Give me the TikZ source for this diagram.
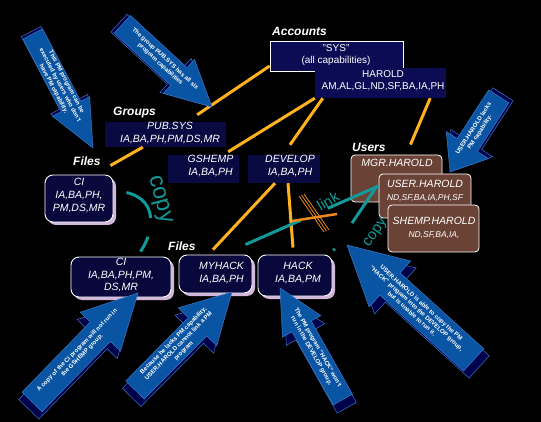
\documentclass[tikz,border=0pt]{standalone}
\usepackage{fontspec}
\setmainfont{Liberation Sans}
\usetikzlibrary{shadows}
\definecolor{AcctNavy}{HTML}{0C0C55}
\definecolor{GroupNavy}{HTML}{0A0A42}
\definecolor{FileNavy}{HTML}{08083C}
\definecolor{Lavender}{HTML}{D2B6DC}
\definecolor{UserBrown}{HTML}{6A4236}
\definecolor{LinkOrange}{HTML}{FFB21E}
\definecolor{BreakOrange}{HTML}{F08A1E}
\definecolor{CopyTeal}{HTML}{12999A}
\definecolor{ArrowFace}{HTML}{0A55A3}
\definecolor{ArrowSide}{HTML}{00004A}
\definecolor{ArrowEdge}{HTML}{3A78C8}

\tikzset{
  sz/.style 2 args={minimum width=#1pt,minimum height=#2pt,inner sep=0pt},
  acctbox/.style={fill=AcctNavy},
  groupbox/.style={fill=GroupNavy},
  filebox/.style={fill=FileNavy,draw=white,line width=0.9pt,rounded corners=8pt,
    drop shadow={shadow xshift=3pt,shadow yshift=-3pt,fill=Lavender,opacity=1}},
  userbox/.style={fill=UserBrown,draw=white,line width=0.8pt,rounded corners=4pt},
  boxtext/.style={text=white,align=center,inner sep=0pt,font=\fontsize{10.5}{13}\selectfont\itshape},
  accttext/.style={boxtext,font=\fontsize{10}{12.5}\selectfont},
  head/.style={text=white,anchor=base west,inner sep=0pt,font=\fontsize{12}{14}\selectfont\bfseries\itshape},
  link/.style={LinkOrange,line width=3pt},
  copyline/.style={CopyTeal,line width=3pt},
  copytext/.style={text=CopyTeal,inner sep=0pt},
  arrowface/.style={fill=ArrowFace,draw=ArrowEdge,line width=0.5pt},
  arrowside/.style={fill=ArrowSide,draw=ArrowEdge,line width=0.5pt},
  arrowtext/.style={text=white,align=center,inner sep=0pt,font=\fontsize{6}{7.2}\selectfont\bfseries}
}

\begin{document}
\begin{tikzpicture}[x=1pt,y=-1pt]
  \fill[black] (0,0) rectangle (541,422);
  \useasboundingbox (0,0) rectangle (541,422);

  % accounts
  \node[head] (acct-lbl) at (272,36) {Accounts};
  \node[acctbox,draw=white,line width=0.8pt,sz={133}{30}] (sys) at (336.5,56) {};
  \node[accttext] (sys-txt) at (336,55) {"SYS"\\(all capabilities)};
  \node[acctbox,sz={131}{30}] (harold) at (380.5,83) {};
  \node[accttext,font=\fontsize{10}{12}\selectfont] (harold-txt) at (383,81) {HAROLD\\AM,AL,GL,ND,SF,BA,IA,PH};

  % groups
  \node[head] (grp-lbl) at (113,116) {Groups};
  \node[groupbox,sz={121}{25}] (pub) at (165.5,134.5) {};
  \node[boxtext] (pub-txt) at (170,133) {PUB.SYS\\IA,BA,PH,PM,DS,MR};
  \node[groupbox,sz={71}{28}] (gshemp) at (203.5,169) {};
  \node[boxtext] (gshemp-txt) at (210.5,166.5) {GSHEMP\\IA,BA,PH};
  \node[groupbox,sz={72}{28}] (develop) at (284,169) {};
  \node[boxtext] (develop-txt) at (290,166.5) {DEVELOP\\IA,BA,PH};

  % files
  \node[head] (file-lbl-a) at (73,166) {Files};
  \node[filebox,sz={68}{47}] (ci-a) at (79,198.5) {};
  \node[boxtext] (ci-a-txt) at (79,196) {CI\\IA,BA,PH,\\PM,DS,MR};
  \node[head] (file-lbl-b) at (168,251) {Files};
  \node[filebox,sz={100}{40}] (ci-b) at (121,277) {};
  \node[boxtext,font=\fontsize{10.5}{12.5}\selectfont\itshape] (ci-b-txt) at (121,275.5) {CI\\IA,BA,PH,PM,\\DS,MR};
  \node[filebox,sz={73}{38}] (myhack) at (215.5,274) {};
  \node[boxtext] (myhack-txt) at (221.5,273) {MYHACK\\IA,BA,PH};
  \node[filebox,sz={74}{41}] (hack) at (295,275.5) {};
  \node[boxtext] (hack-txt) at (298,273) {HACK\\IA,BA,PM};

  % users
  \node[head] (user-lbl) at (352,152) {Users};
  \node[userbox,sz={91}{47}] (mgr) at (396.5,178.5) {};
  \node[boxtext] (mgr-txt) at (397,163) {MGR.HAROLD};
  \node[userbox,sz={92}{44}] (user) at (425,196) {};
  \node[boxtext] (user-txt) at (425,190.5) {USER.HAROLD\\{\fontsize{8.5}{10}\selectfont ND,SF,BA,IA,PH,SF}};
  \node[userbox,sz={91}{47}] (shemp) at (433.5,228.5) {};
  \node[boxtext] (shemp-txt) at (434,228) {SHEMP.HAROLD\\{\fontsize{8.5}{10}\selectfont ND,SF,BA,IA,}};

  % capability links
  \draw[link] ([yshift=-10pt]sys.west) -- ([xshift=-29pt,yshift=7pt]pub.north east);
  \draw[link] (harold.south west) -- ([xshift=-11pt,yshift=3pt]gshemp.north east);
  \draw[link] ([xshift=8pt]harold.south west) -- ([xshift=6pt,yshift=10pt]develop.north);
  \draw[link] ([xshift=-16pt]harold.south east) -- ([xshift=14pt,yshift=10pt]mgr.north);
  \draw[link] ([xshift=38pt]pub.south west) -- ([xshift=-3pt,yshift=9pt]ci-a.north east);
  \draw[link] ([xshift=-9pt]develop.south) -- ([xshift=-2.5pt,yshift=5pt]myhack.north);
  \draw[link] ([xshift=4pt]develop.south) -- ([xshift=-2pt,yshift=7pt]hack.north);

  % copy / link paths
  \draw[copyline,dash pattern=on 60pt off 30pt on 80pt] ([xshift=-7pt,yshift=10pt]myhack.north east) -- ([yshift=10pt]user.west);
  \draw[copyline,dash pattern=on 44pt off 31pt on 3pt off 10pt] ([xshift=-2pt,yshift=-13pt]user.north west) -- ([xshift=1pt,yshift=4pt]hack.north east);
  \draw[copyline,dash pattern=on 38pt off 19pt on 30pt] ([xshift=13pt,yshift=6pt]ci-a.east)
    .. controls +(34,8) and +(12,-17) .. ([xshift=-31pt,yshift=5pt]ci-b.north east);
  \node[copytext,font=\fontsize{23}{23}\selectfont,rotate=-75] (copy-a) at (159,200) {copy};
  \node[copytext,font=\fontsize{15}{15}\selectfont,rotate=30] (link-txt) at (328,201) {link};
  \node[copytext,font=\fontsize{15}{15}\selectfont,rotate=56] (copy-b) at (376,233) {copy};

  % broken link
  \foreach \d in {0,2.5,5} {
    \draw[BreakOrange,line width=0.8pt] (299+\d,196-\d*0.4) -- (324+\d,232-\d*0.4);
  }
  \draw[BreakOrange,line width=2.5pt] (292,221) -- (337,214);

  % call-out arrows
  \foreach \tx/\ty/\ang/\len/\sw/\hw/\hl/\flip/\txt [count=\i] in {%
    {93/148/-62.2/129/11/21/47/0/{This PM program can be\\executed by users who don't\\have PM capability.}},
    {212/107/-42.7/122/12/23/45/0/{The group PUB.SYS has all six\\program capabilities}},
    {450/172/-122.8/90/12/25/32/180/{USER.HAROLD lacks\\PM capability.}},
    {138/293/45.8/152/14/28/54/0/{A copy of the CI program will not run in\\the GSHEMP group.}},
    {232/292/45.3/138/13/27/49/0/{Because he lacks PM capability,\\USER.HAROLD cannot link a PM\\program}},
    {280/288/119.4/128/11/22/44/180/{The PM program "HACK" won't\\run in the DEVELOP group.}},
    {347/245/137.8/171/15/31/58/180/{USER.HAROLD is able to copy the PM\\"HACK" program into the DEVELOP group,\\but is unable to run it.}}}{
    \filldraw[arrowside,shift={(\tx+1,\ty+3)},rotate=\ang,xshift=-6pt]
      (0,0) -- (-\hl,\hw) -- (-\hl,\sw) -- (-\len,\sw) -- (-\len,-\sw) -- (-\hl,-\sw) -- (-\hl,-\hw) -- cycle;
    \filldraw[arrowface,shift={(\tx,\ty)},rotate=\ang]
      (0,0) -- (-\hl,\hw) -- (-\hl,\sw) -- (-\len,\sw) -- (-\len,-\sw) -- (-\hl,-\sw) -- (-\hl,-\hw) -- cycle;
    \begin{scope}[shift={(\tx,\ty)},rotate=\ang]
      \node[arrowtext,transform shape,rotate=\flip] (note-\i) at (-0.55*\len,0) {\txt};
    \end{scope}
  }
\end{tikzpicture}
\end{document}
